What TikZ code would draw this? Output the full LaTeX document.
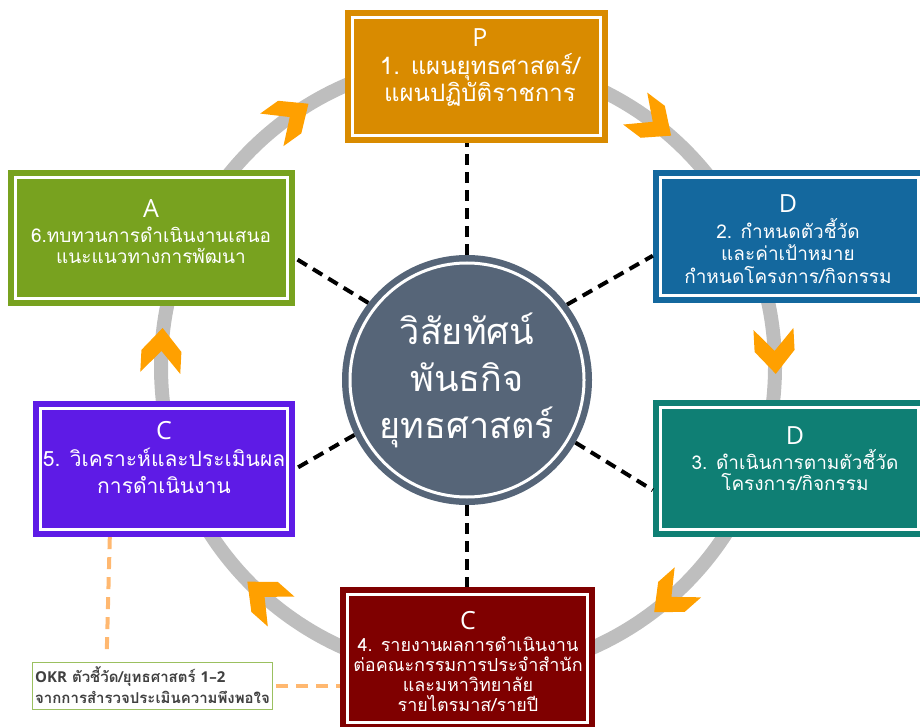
\documentclass[tikz,border=0pt]{standalone}
\usepackage{fontspec}
\setmainfont[Script=Thai]{Loma}
\newfontfamily\titlefont{Open Sans}
\usetikzlibrary{calc}
\definecolor{planorange}{HTML}{D98B00}
\definecolor{goalblue}{HTML}{14689E}
\definecolor{actteal}{HTML}{0F7F74}
\definecolor{reportred}{HTML}{7F0000}
\definecolor{reviewgreen}{HTML}{78A21F}
\definecolor{evalpurple}{HTML}{5E1BE6}
\definecolor{hubslate}{HTML}{566578}
\definecolor{ringgray}{HTML}{BEBEBE}
\definecolor{arroworange}{HTML}{FFA000}
\definecolor{linkorange}{HTML}{FFB870}
\definecolor{okrgreen}{HTML}{9BC060}
\definecolor{okrtext}{HTML}{404040}
\newcommand{\steptitle}[1]{{\titlefont\fontsize{25}{25}\selectfont #1}}
\tikzset{
    cyclering/.style = {
        line width=14pt,
        ringgray,
    },
    cyclearrow/.style = {
        arroworange,
    },
    phasebox/.style = {
        fill=#1,
        inner sep=0pt,
    },
    phasetext/.style = {
        text=white,
        align=center,
        inner sep=0pt,
        font=\fontsize{19}{22}\selectfont,
    },
    innerline/.style = {
        line width=3pt,
        white,
    },
    hub/.style = {
        circle,
        fill=hubslate,
        minimum size=250pt,
        inner sep=0pt,
        text=white,
        align=center,
        font=\fontsize{36}{47}\selectfont,
    },
    spoke/.style = {
        line width=4pt,
        black,
        dash pattern=on 11pt off 7pt,
    },
    okrnote/.style = {
        draw=okrgreen,
        line width=1pt,
        fill=white,
        minimum width=235pt,
        minimum height=47pt,
        inner xsep=3pt,
        align=left,
        text=okrtext,
        font=\bfseries\fontsize{15}{21}\selectfont,
    },
    okrlink/.style = {
        line width=4pt,
        linkorange,
        dash pattern=on 12pt off 8pt,
    }
}

\begin{document}
\begin{tikzpicture}[x=1pt, y=1pt]
  \useasboundingbox (0,0) rectangle (920,726);

  % Ring with the arrows of the cycle
  \coordinate (ringc) at (468,359);
  \draw[cyclering] (ringc) circle[radius=307];
  \foreach \a in {125.5, 53, 3, -48.5, 228.5, 177} {
    \fill[cyclearrow, shift={($(ringc)+(\a:307)$)}, rotate=\a-90]
      (-22,20) -- (0,20) -- (23,0) -- (0,-20) -- (-22,-20) -- (0,0) -- cycle;
  }

  % Boxes of the six steps
  \node[phasebox=planorange, minimum width=263pt, minimum height=133pt] (planbox) at (476.5,649.5) {};
  \node[phasebox=goalblue, minimum width=273pt, minimum height=133pt] (goalbox) at (789.5,489.5) {};
  \node[phasebox=actteal, minimum width=273pt, minimum height=137pt] (actbox) at (789.5,257.5) {};
  \node[phasebox=reportred, minimum width=255pt, minimum height=143pt] (reportbox) at (467.5,67.5) {};
  \node[phasebox=evalpurple, minimum width=262pt, minimum height=136pt] (evalbox) at (164,257) {};
  \node[phasebox=reviewgreen, minimum width=287pt, minimum height=136pt] (reviewbox) at (151.5,488) {};
  \foreach \b in {planbox, goalbox, actbox, reportbox, evalbox, reviewbox}
    \draw[innerline] ([shift={(8,8)}]\b.south west) rectangle ([shift={(-8,-8)}]\b.north east);

  \node[phasetext, font=\fontsize{24}{27}\selectfont] (plantext) at (480,658)
    {\steptitle{P}\\[1pt]1. แผนยุทธศาสตร์/\\แผนปฏิบัติราชการ};
  \node[phasetext, font=\fontsize{19}{22.5}\selectfont] (goaltext) at (788,487)
    {\steptitle{D}\\[3pt]2. กำหนดตัวชี้วัด\\และค่าเป้าหมาย\\กำหนดโครงการ/กิจกรรม};
  \node[phasetext, font=\fontsize{19}{21}\selectfont] (acttext) at (795,267)
    {\steptitle{D}\\[4pt]3. ดำเนินการตามตัวชี้วัด\\โครงการ/กิจกรรม};
  \node[phasetext, font=\fontsize{18}{20}\selectfont] (reporttext) at (468,65)
    {\steptitle{C}\\[2pt]4. รายงานผลการดำเนินงาน\\ต่อคณะกรรมการประจำสำนัก\\และมหาวิทยาลัย\\รายไตรมาส/รายปี};
  \node[phasetext, font=\fontsize{21}{27}\selectfont] (evaltext) at (164,268)
    {\steptitle{C}\\5. วิเคราะห์และประเมินผล\\การดำเนินงาน};
  \node[phasetext, font=\fontsize{19}{21}\selectfont] (reviewtext) at (151,494)
    {\steptitle{A}\\[4pt]6.ทบทวนการดำเนินงานเสนอ\\แนะแนวทางการพัฒนา};

  % Centre
  \node[hub] (hub) at (467,346) {วิสัยทัศน์\\พันธกิจ\\ยุทธศาสตร์};
  \draw[innerline] (hub.center) circle[radius=117];

  \draw[spoke] (hub.north) -- (hub.north |- planbox.south);
  \draw[spoke] (hub.south) -- (hub.south |- reportbox.north);
  \draw[spoke] (hub.142) -- (reviewbox.-8);
  \draw[spoke] (hub.37) -- (goalbox.188);
  \draw[spoke] (hub.-30) -- (actbox.189);
  \draw[spoke] (hub.206) -- (evalbox.east);

  % OKR note
  \node[okrnote] (okrbox) at (152.5,40.5) {{\titlefont OKR} ตัวชี้วัด/ยุทธศาสตร์ {\titlefont 1–2}\\จากการสำรวจประเมินความพึงพอใจ};
  \draw[okrlink] ([xshift=77]evalbox.south west) -- ([xshift=75,yshift=7]okrbox.north west);
  \draw[okrlink] ([xshift=3]okrbox.east) -- (reportbox.west |- okrbox.east);

\end{tikzpicture}
\end{document}
